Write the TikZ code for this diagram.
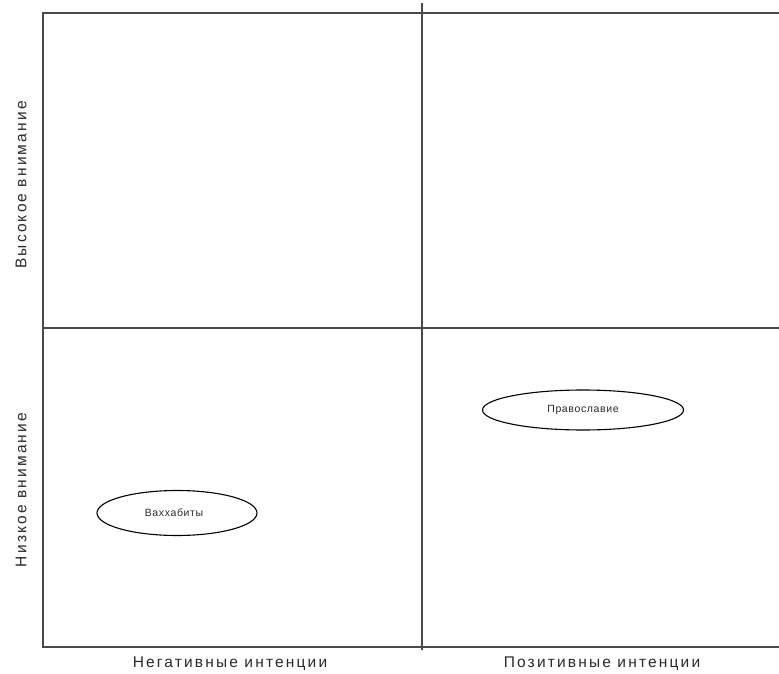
\documentclass[tikz,border=0pt]{standalone}
\usepackage{fontspec}
\setmainfont{Liberation Sans}
\usetikzlibrary{shapes.geometric}
\definecolor{ln}{HTML}{4A4A4A}
\definecolor{tx}{HTML}{2A2A2A}
\tikzset{
  frame/.style={draw=ln, line width=1.4pt},
  oval/.style={draw=black, line width=1.1pt, ellipse, inner sep=0pt},
  axis/.style={text=tx, font=\fontsize{15.5}{18}\selectfont\addfontfeature{LetterSpace=14}, inner sep=0pt},
  small/.style={font=\fontsize{10.5}{12}\selectfont\addfontfeature{LetterSpace=6}, text=tx}
}
\begin{document}
\begin{tikzpicture}[x=1pt,y=-1pt]
\useasboundingbox (0,0) rectangle (779,674);
\coordinate (tl) at (43,13);
\coordinate (tr) at (781,13);
\coordinate (bl) at (43,647);
\coordinate (br) at (781,647);
\coordinate (vt) at (422,3);
\coordinate (vb) at (422,650);
\coordinate (hl) at (43,328);
\coordinate (hr) at (781,328);
\draw[frame] (tr) -- (tl) -- (bl) -- (br);
\draw[frame] (vt) -- (vb);
\draw[frame] (hl) -- (hr);
\node[oval, minimum width=160pt, minimum height=45pt] (w) at (177,513) {};
\node[small] at (174,513) {Ваххабиты};
\node[oval, minimum width=201pt, minimum height=40pt] (p) at (583,410) {};
\node[small] at (583,410) {Православие};
\node[axis, rotate=90] (hi) at (21,185) {Высокое внимание};
\node[axis, rotate=90] (lo) at (21,490) {Низкое внимание};
\node[axis] (neg) at (230,664) {Негативные интенции};
\node[axis] (pos) at (602,664) {Позитивные интенции};
\end{tikzpicture}
\end{document}
